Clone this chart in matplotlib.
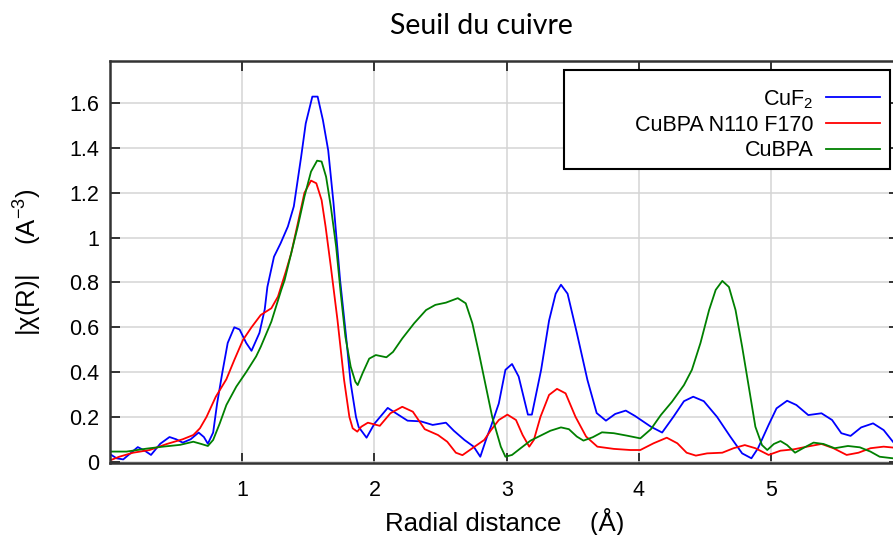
import matplotlib
matplotlib.use("Agg")
import matplotlib.pyplot as plt
from matplotlib.patches import Rectangle

plt.rcParams['font.family'] = ['Liberation Sans', 'DejaVu Sans']
plt.rcParams['mathtext.default'] = 'regular'

# |chi(R)| curves, radial distance in Angstrom
cuf2_r = [0.01, 0.05, 0.10, 0.16, 0.21, 0.26, 0.31, 0.38, 0.45, 0.50, 0.55, 0.61, 0.67, 0.71,
          0.74, 0.78, 0.81, 0.85, 0.89, 0.94, 0.98, 1.03, 1.07, 1.13, 1.17, 1.19, 1.24, 1.29,
          1.345, 1.39, 1.445, 1.48, 1.53, 1.57, 1.61, 1.65, 1.69, 1.74, 1.785, 1.82, 1.86, 1.88,
          1.94, 2.00, 2.10, 2.16, 2.25, 2.35, 2.44, 2.54, 2.60, 2.68, 2.75, 2.80, 2.85, 2.88,
          2.94, 2.99, 3.04, 3.09, 3.16, 3.19, 3.26, 3.32, 3.37, 3.41, 3.46, 3.53, 3.61, 3.68,
          3.75, 3.82, 3.90, 3.97, 4.09, 4.175, 4.26, 4.34, 4.41, 4.49, 4.59, 4.69, 4.78, 4.85,
          4.90, 4.98, 5.04, 5.12, 5.19, 5.28, 5.38, 5.46, 5.53, 5.60, 5.68, 5.77, 5.85, 5.92, 5.97]
cuf2_chi = [0.03, 0.015, 0.01, 0.04, 0.065, 0.05, 0.03, 0.08, 0.11, 0.10, 0.085, 0.10, 0.13, 0.11,
            0.08, 0.13, 0.26, 0.40, 0.53, 0.60, 0.59, 0.53, 0.495, 0.575, 0.68, 0.78, 0.915, 0.975,
            1.05, 1.14, 1.36, 1.51, 1.63, 1.63, 1.525, 1.39, 1.155, 0.81, 0.56, 0.35, 0.20, 0.155,
            0.107, 0.17, 0.24, 0.217, 0.183, 0.18, 0.164, 0.174, 0.138, 0.097, 0.067, 0.022, 0.11, 0.156,
            0.26, 0.41, 0.436, 0.38, 0.21, 0.21, 0.41, 0.63, 0.75, 0.79, 0.75, 0.575, 0.365, 0.217,
            0.183, 0.213, 0.228, 0.204, 0.156, 0.13, 0.20, 0.27, 0.29, 0.27, 0.20, 0.112, 0.037, 0.015,
            0.06, 0.164, 0.238, 0.272, 0.253, 0.208, 0.216, 0.186, 0.127, 0.115, 0.153, 0.171, 0.141, 0.089, 0.06]

n110_r = [0.01, 0.07, 0.175, 0.30, 0.43, 0.55, 0.63, 0.68, 0.73, 0.80, 0.88, 0.94, 1.005, 1.07,
          1.14, 1.22, 1.27, 1.33, 1.37, 1.42, 1.47, 1.52, 1.56, 1.60, 1.63, 1.67, 1.72, 1.77,
          1.81, 1.835, 1.87, 1.90, 1.95, 2.04, 2.12, 2.21, 2.29, 2.38, 2.48, 2.55, 2.615, 2.665,
          2.74, 2.83, 2.88, 2.94, 3.005, 3.07, 3.12, 3.17, 3.205, 3.255, 3.32, 3.38, 3.445, 3.52,
          3.60, 3.685, 3.81, 3.935, 4.01, 4.11, 4.21, 4.29, 4.36, 4.43, 4.515, 4.63, 4.715, 4.80,
          4.88, 4.98, 5.07, 5.17, 5.27, 5.38, 5.47, 5.57, 5.66, 5.75, 5.85, 5.92, 5.97]
n110_chi = [0.008, 0.022, 0.04, 0.052, 0.079, 0.10, 0.119, 0.149, 0.20, 0.29, 0.368, 0.454, 0.543, 0.60,
            0.655, 0.685, 0.737, 0.85, 0.93, 1.064, 1.20, 1.255, 1.243, 1.168, 1.05, 0.87, 0.633, 0.365,
            0.20, 0.149, 0.134, 0.156, 0.174, 0.16, 0.216, 0.245, 0.223, 0.145, 0.119, 0.089, 0.04, 0.029,
            0.06, 0.097, 0.14, 0.186, 0.21, 0.186, 0.119, 0.067, 0.097, 0.20, 0.298, 0.325, 0.305, 0.20,
            0.112, 0.067, 0.057, 0.052, 0.052, 0.082, 0.107, 0.082, 0.04, 0.027, 0.037, 0.04, 0.06, 0.074,
            0.06, 0.03, 0.049, 0.055, 0.067, 0.079, 0.06, 0.03, 0.04, 0.06, 0.067, 0.063, 0.06]

cubpa_r = [0.01, 0.125, 0.275, 0.40, 0.53, 0.63, 0.69, 0.74, 0.78, 0.83, 0.88, 0.955, 1.03, 1.105,
           1.14, 1.22, 1.295, 1.32, 1.37, 1.42, 1.47, 1.52, 1.566, 1.60, 1.634, 1.67, 1.71, 1.745,
           1.78, 1.82, 1.855, 1.873, 1.91, 1.96, 2.01, 2.09, 2.14, 2.21, 2.30, 2.39, 2.46, 2.54,
           2.63, 2.69, 2.74, 2.79, 2.84, 2.89, 2.955, 2.99, 3.04, 3.105, 3.18, 3.255, 3.33, 3.41,
           3.47, 3.53, 3.58, 3.65, 3.72, 3.81, 3.91, 4.01, 4.09, 4.165, 4.25, 4.34, 4.40, 4.465,
           4.53, 4.58, 4.63, 4.68, 4.73, 4.78, 4.83, 4.88, 4.93, 4.97, 5.02, 5.07, 5.12, 5.18,
           5.24, 5.32, 5.395, 5.48, 5.58, 5.67, 5.75, 5.82, 5.92, 5.97]
cubpa_chi = [0.045, 0.045, 0.058, 0.067, 0.075, 0.089, 0.079, 0.07, 0.097, 0.171, 0.253, 0.335, 0.40, 0.47,
             0.513, 0.625, 0.767, 0.81, 0.93, 1.05, 1.183, 1.295, 1.344, 1.34, 1.272, 1.138, 0.96, 0.75,
             0.558, 0.424, 0.357, 0.342, 0.395, 0.46, 0.476, 0.466, 0.49, 0.55, 0.618, 0.677, 0.70, 0.71,
             0.73, 0.707, 0.618, 0.484, 0.342, 0.20, 0.067, 0.022, 0.03, 0.06, 0.094, 0.116, 0.138, 0.153,
             0.145, 0.112, 0.094, 0.109, 0.131, 0.127, 0.116, 0.104, 0.145, 0.208, 0.268, 0.342, 0.41, 0.53,
             0.677, 0.767, 0.807, 0.78, 0.677, 0.513, 0.335, 0.156, 0.074, 0.052, 0.079, 0.092, 0.074, 0.04,
             0.06, 0.085, 0.079, 0.06, 0.07, 0.064, 0.045, 0.022, 0.015, 0.012]

labels = ['CuF$_2$', 'CuBPA N110 F170', 'CuBPA']
colors = ['#0000ff', '#ff0000', '#008000']

W, H = 893, 535
fig = plt.figure(figsize=(W / 100, H / 100), dpi=100)
# plot frame runs a little past the right border of the image
left, right, top, bottom = 110, 899, 61, 463
ax = fig.add_axes([left / W, 1 - bottom / H, (right - left) / W, (bottom - top) / H])

for r, chi, lab, c in zip([cuf2_r, n110_r, cubpa_r], [cuf2_chi, n110_chi, cubpa_chi], labels, colors):
    ax.plot(r, chi, color=c, lw=1.3, label=lab, solid_joinstyle='round')

ax.set_xlim(0.0, (right - 108.5) / 132.5)
ax.set_ylim(-0.006, 1.789)
ax.set_xticks([1, 2, 3, 4, 5])
ax.set_xticklabels(['1', '2', '3', '4', '5'])
ax.set_yticks([0, 0.2, 0.4, 0.6, 0.8, 1.0, 1.2, 1.4, 1.6])
ax.set_yticklabels(['0', '0.2', '0.4', '0.6', '0.8', '1', '1.2', '1.4', '1.6'])

ax.grid(True, color='#d4d4d4', lw=1.1)
ax.set_axisbelow(True)
for s in ax.spines.values():
    s.set_color('#333333')
    s.set_linewidth(1.8)
ax.tick_params(direction='in', length=7, width=1.4, color='#333333', labelsize=15.5,
               top=True, right=True)
ax.tick_params(axis='x', pad=12)
ax.tick_params(axis='y', pad=8)

ax.set_xlabel('Radial distance    (Å)', fontsize=18.5, labelpad=5)
ax.set_ylabel('|χ(R)|    (A$^{-3}$)', fontsize=18.5)
ax.yaxis.set_label_coords(-0.084, 0.5)

fig.text(481 / W, 1 - 26 / H, 'Seuil du cuivre', fontsize=20.5, family=['Lato', 'DejaVu Sans'],
         ha='center', va='center')

# wide legend box with the entries pushed to its right side
ax.add_patch(Rectangle((564 / W, 1 - 169 / H), (890 - 564) / W, (169 - 70) / H,
                       transform=fig.transFigure, facecolor='white', edgecolor='black',
                       lw=1.5, zorder=4, clip_on=False))
ax.legend(loc='upper right', bbox_to_anchor=(880 / W, 1 - 88 / H),
          bbox_transform=fig.transFigure, markerfirst=False, fontsize=15.5,
          frameon=False, borderaxespad=0, borderpad=0,
          handlelength=2.5, handletextpad=0.6, labelspacing=0.2)

fig.savefig('out.png', dpi=100)
